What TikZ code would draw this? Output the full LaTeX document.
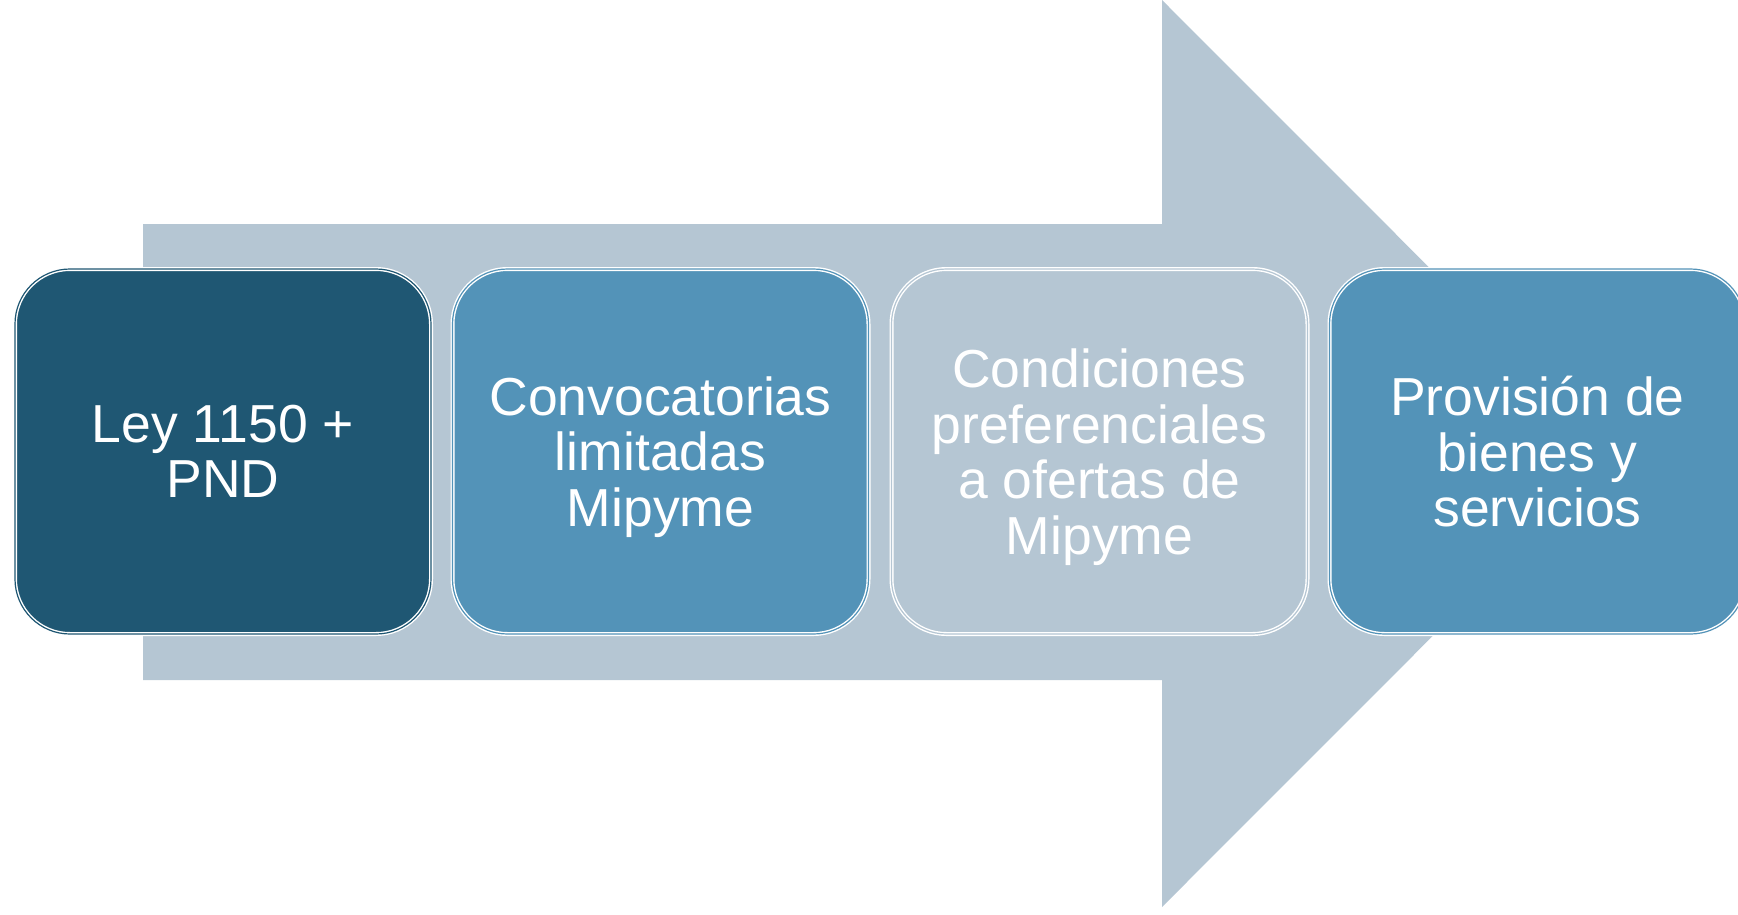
\documentclass[tikz,border=0pt]{standalone}
\usepackage{fontspec}
\setmainfont{Liberation Sans}
\definecolor{arrowc}{HTML}{B5C6D3}
\definecolor{darkc}{HTML}{1F5773}
\definecolor{midc}{HTML}{5393B8}
\tikzset{
  stepbox/.style={rectangle, rounded corners=55pt, minimum width=416pt, minimum height=365pt,
    draw=white, double=#1, fill=#1, line width=1.4pt, double distance=1.2pt,
    text=white, align=center, inner sep=0pt, text depth=0pt,
    font=\fontsize{53.5}{55.5}\selectfont},
}
\begin{document}
\begin{tikzpicture}[x=1pt,y=-1pt]
\useasboundingbox (0,0) rectangle (1738,914);
\fill[arrowc] (143,224) -- (1162,224) -- (1162,0) -- (1615,453.5) -- (1162,907) -- (1162,680) -- (143,680) -- cycle;
\node[stepbox=darkc]  (b1) at (223,451.5)   {Ley 1150 +\\PND};
\node[stepbox=midc]   (b2) at (660.5,451.5) {Convocatorias\\limitadas\\Mipyme};
\node[stepbox=arrowc] (b3) at (1099.5,451.5) {Condiciones\\preferenciales\\a ofertas de\\Mipyme};
\node[stepbox=midc]   (b4) at (1537.5,451.5) {Provisión de\\bienes y\\servicios};
\end{tikzpicture}
\end{document}
